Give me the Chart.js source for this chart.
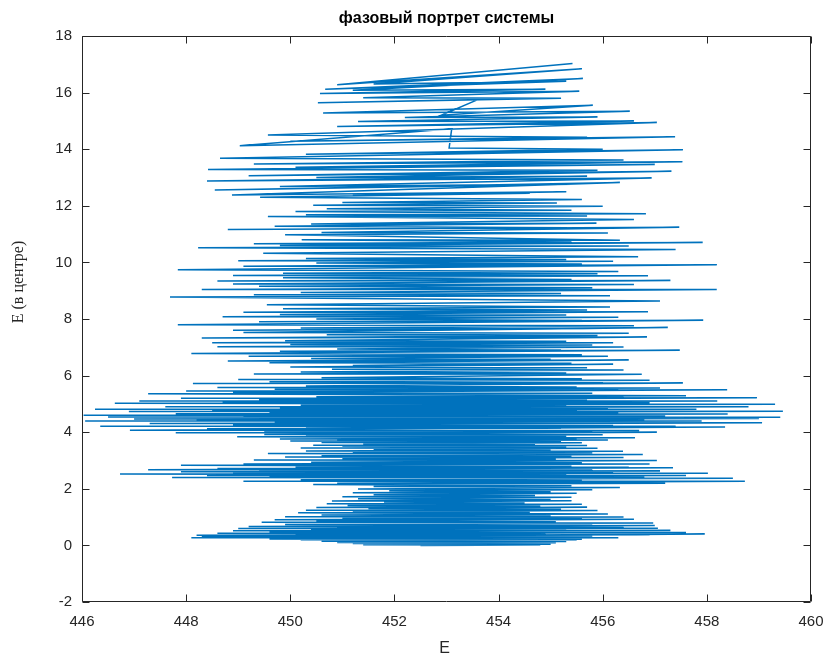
<!DOCTYPE html>
<html>
<head>
<meta charset="utf-8">
<script src="https://cdn.jsdelivr.net/npm/chart.js@4/dist/chart.umd.min.js"></script>
<style>
  html, body { margin: 0; padding: 0; background: #ffffff; }
  #wrap { width: 829px; height: 658px; }
</style>
</head>
<body>
<div id="wrap"><canvas id="c" width="829" height="658"></canvas></div>
<script>
// ---- data: [E, E (в центре)] ----
const bandA = [[452.5,0.00],[454.8,0.01],[451.4,0.02],[455.0,0.04],[452.0,0.05],[454.2,0.06],[451.2,0.07],[455.1,0.09],[450.9,0.10],[453.9,0.11],[451.6,0.12],[455.3,0.14],[450.6,0.15],[454.6,0.16],[451.1,0.17],[455.5,0.19],[450.2,0.20],[455.6,0.22],[449.6,0.23],[454.1,0.24],[450.7,0.25],[456.3,0.27],[448.1,0.27],[457.96,0.40],[448.3,0.31],[455.8,0.33],[449.3,0.35],[456.9,0.38],[448.2,0.36],[454.9,0.39],[450.1,0.41],[457.6,0.46],[448.6,0.43],[456.1,0.45],[449.6,0.47],[457.3,0.53],[448.9,0.52],[455.3,0.55],[450.4,0.57],[457.06,0.61],[449.0,0.60],[456.4,0.63],[450.9,0.64],[457.0,0.70],[449.2,0.67],[455.8,0.71],[449.9,0.74],[456.97,0.79],[449.45,0.82],[455.1,0.84],[450.5,0.86],[456.6,0.92],[449.7,0.91],[455.6,0.95],[451.0,0.97],[456.4,1.00],[449.9,1.01],[455.0,1.04],[450.6,1.07],[456.1,1.11],[450.15,1.15],[454.6,1.17],[451.2,1.19],[455.9,1.23],[450.3,1.24],[455.2,1.28],[451.5,1.30],[455.7,1.35],[450.5,1.34],[454.8,1.38],[451.1,1.41],[455.6,1.45],[450.7,1.47],[454.5,1.50],[451.8,1.53],[455.4,1.58],[450.8,1.57],[455.0,1.62],[451.3,1.65],[455.4,1.70],[451.0,1.72],[454.7,1.76],[451.6,1.79],[455.5,1.84],[451.2,1.86],[455.0,1.90],[451.9,1.93],[455.8,1.97],[451.3,1.99],[456.33,2.05],[451.6,2.08],[455.4,2.11]];
const bandB = [[450.44,2.15],[457.2,2.20],[450.9,2.20],[458.73,2.27],[449.1,2.27],[455.6,2.30],[450.2,2.32],[458.5,2.37],[447.73,2.40],[456.8,2.42],[449.6,2.43],[457.6,2.47],[448.4,2.47],[455.3,2.49],[446.73,2.52],[458.02,2.55],[448.9,2.55],[456.2,2.58],[447.9,2.60],[457.1,2.63],[449.4,2.62],[455.8,2.66],[447.27,2.67],[457.35,2.74],[448.6,2.72],[456.5,2.76],[450.1,2.77],[455.4,2.80],[447.9,2.83],[456.9,2.88],[449.1,2.88],[455.6,2.92],[450.4,2.94],[457.04,3.00],[449.3,3.02],[455.1,3.04],[451.0,3.07],[456.4,3.11],[449.9,3.12],[455.4,3.15],[450.6,3.17],[456.77,3.21],[449.57,3.25],[455.8,3.27],[451.2,3.29],[456.39,3.33],[450.3,3.34],[455.0,3.37],[451.6,3.39],[455.9,3.43],[450.2,3.44],[455.3,3.47],[451.0,3.50],[455.7,3.53],[450.44,3.54],[454.7,3.56],[451.4,3.59],[455.6,3.63],[450.6,3.64],[455.2,3.67],[450.0,3.69],[456.1,3.72],[450.9,3.73],[455.5,3.76],[449.8,3.76],[456.62,3.80],[448.98,3.84],[455.3,3.86],[450.3,3.88],[456.0,3.91],[449.5,3.92],[457.04,4.00]];
const bandC = [[447.8,3.98],[455.8,4.02],[449.5,4.03],[456.7,4.06],[446.92,4.07],[458.35,4.18],[448.4,4.12],[455.2,4.14],[450.3,4.15],[457.4,4.21],[446.35,4.21],[456.2,4.24],[448.9,4.26],[459.06,4.33],[447.3,4.31],[455.6,4.34],[449.7,4.36],[457.9,4.40],[446.06,4.40],[456.8,4.43],[448.2,4.45],[459.0,4.48],[447.0,4.47],[455.4,4.49],[450.0,4.50],[459.41,4.53],[446.5,4.54],[457.2,4.57],[449.1,4.58],[455.9,4.60],[446.03,4.60],[458.4,4.64],[447.8,4.65],[456.3,4.67],[449.6,4.69],[459.46,4.74],[446.9,4.73],[455.5,4.76],[448.5,4.78],[457.8,4.81],[446.25,4.81],[456.1,4.84],[449.8,4.86],[458.8,4.90],[447.6,4.90],[455.3,4.93],[450.2,4.95],[459.31,4.99],[446.63,5.02],[456.9,5.04],[448.7,5.06],[458.2,5.10],[447.1,5.10],[455.7,5.13],[449.4,5.15],[458.96,5.22],[447.9,5.20],[456.4,5.23],[450.5,5.25],[457.6,5.29],[447.27,5.36],[455.8,5.38],[448.9,5.40],[458.39,5.50],[448.0,5.46],[456.3,5.49],[449.7,5.52],[457.1,5.56],[448.6,5.58],[455.5,5.60],[450.3,5.63],[457.54,5.74],[448.13,5.72],[456.0,5.75],[449.6,5.78],[456.9,5.84],[449.0,5.86],[455.6,5.89],[450.6,5.92],[456.75,6.05],[449.3,6.06],[455.3,6.09],[450.2,6.13],[456.4,6.20],[450.8,6.22],[455.7,6.28],[450.0,6.30],[456.2,6.40]];
const bandD = [[451.2,6.36],[455.4,6.44],[449.6,6.45],[456.5,6.55],[448.8,6.52],[455.0,6.58],[450.4,6.60],[456.1,6.68],[449.2,6.68],[455.6,6.74],[448.1,6.78],[457.48,6.90],[449.8,6.86],[455.2,6.90],[450.9,6.94],[456.4,7.01],[448.6,7.02],[455.8,7.08],[450.0,7.10],[456.2,7.16],[448.5,7.16],[455.3,7.21],[449.9,7.23],[456.85,7.36],[448.3,7.33],[455.9,7.42],[450.7,7.44],[456.5,7.50],[449.1,7.52],[457.25,7.70],[448.9,7.60],[456.0,7.66],[450.2,7.68],[456.6,7.76],[447.84,7.80],[457.93,7.96],[449.4,7.90],[455.6,7.95],[450.5,8.00],[456.3,8.06],[448.7,8.08],[455.3,8.14],[449.8,8.16],[456.87,8.26],[449.1,8.24],[455.7,8.32],[449.86,8.36],[456.14,8.42],[449.55,8.50]];
const bandE = [[457.1,8.64],[447.69,8.78],[456.14,8.82],[449.3,8.86],[455.2,8.90],[450.2,8.94],[458.19,9.04],[448.3,9.04],[455.8,9.10],[449.4,9.16],[456.6,9.22],[448.9,9.24],[457.3,9.36],[448.6,9.34],[455.4,9.40],[449.86,9.46],[456.87,9.53],[448.9,9.54],[455.9,9.60],[449.86,9.62],[456.3,9.68],[447.84,9.74],[458.19,9.92],[449.1,9.86],[455.6,9.94],[450.5,9.98],[456.2,10.04],[449.0,10.06],[455.3,10.10],[450.3,10.14],[456.68,10.20],[449.48,10.32],[457.4,10.46],[448.23,10.52],[456.5,10.58],[449.8,10.60],[457.92,10.70],[449.3,10.66],[455.4,10.72],[450.22,10.80],[456.33,10.78],[449.9,10.98],[456.1,11.04],[450.6,11.06],[457.47,11.24],[448.8,11.16],[455.3,11.22],[449.7,11.28],[455.88,11.38],[450.4,11.36],[456.6,11.52],[449.57,11.62],[455.7,11.64],[450.3,11.68],[456.83,11.72],[450.1,11.80],[455.4,11.84],[450.7,11.90],[456.0,11.98],[450.44,12.02],[455.12,12.10],[451.0,12.12],[455.6,12.22]];
const bandF = [[449.42,12.30],[454.6,12.44],[451.2,12.36],[455.3,12.50],[448.88,12.38],[456.33,12.82],[448.55,12.56],[455.4,12.76],[449.8,12.68],[456.94,12.98],[448.4,12.88],[455.7,13.04],[450.5,13.00],[457.32,13.22],[449.2,13.06],[455.9,13.26],[448.42,13.28],[457.0,13.46],[450.1,13.36],[457.53,13.56],[449.3,13.48],[456.4,13.62],[448.65,13.68],[457.54,13.98],[450.3,13.82],[456.0,14.00],[453.05,14.04],[453.1,14.72],[449.03,14.12],[457.39,14.44],[450.0,14.28],[455.7,14.42],[449.57,14.50],[457.04,14.94],[450.9,14.80]];
const bandG = [[456.6,15.00],[451.3,14.98],[455.9,15.14],[452.2,15.12],[456.52,15.34],[450.63,15.28],[455.81,15.55],[452.9,15.20],[453.6,15.75],[450.53,15.64],[455.2,15.80],[451.4,15.82],[455.55,16.05],[450.57,15.97],[454.9,16.12],[451.2,16.08],[455.62,16.50],[450.67,16.12],[455.3,16.40],[451.6,16.30],[455.6,16.84],[450.9,16.28],[455.42,17.03]];

const xTickValues = [446, 448, 450, 452, 454, 456, 458, 460];
const yTickValues = [-2, 0, 2, 4, 6, 8, 10, 12, 14, 16, 18];

const titleText = 'фазовый портрет системы';
const xLabelText = 'E';
const yLabelText = 'E (в центре)';

// ---- build chart ----
const trajectory = [].concat(bandA, bandB, bandC, bandD, bandE, bandF, bandG)
  .map(p => ({ x: p[0], y: p[1] }));

const axisColor = '#262626';

const matlabBox = {
  id: 'matlabBox',
  afterDatasetsDraw(chart) {
    const { ctx, chartArea: a, scales } = chart;
    const tl = 7;
    ctx.save();
    ctx.strokeStyle = axisColor;
    ctx.lineWidth = 1;
    ctx.beginPath();
    const L = Math.round(a.left) + 0.5, R = Math.round(a.right) - 0.5;
    const T = Math.round(a.top) + 0.5, B = Math.round(a.bottom) - 0.5;
    ctx.rect(L, T, R - L, B - T);
    xTickValues.forEach(v => {
      const px = Math.round(scales.x.getPixelForValue(v)) + 0.5;
      ctx.moveTo(px, B); ctx.lineTo(px, B - tl);
      ctx.moveTo(px, T); ctx.lineTo(px, T + tl);
    });
    yTickValues.forEach(v => {
      const py = Math.round(scales.y.getPixelForValue(v)) + 0.5;
      ctx.moveTo(L, py); ctx.lineTo(L + tl, py);
      ctx.moveTo(R, py); ctx.lineTo(R - tl, py);
    });
    ctx.stroke();
    ctx.restore();
  },
  afterDraw(chart) {
    const { ctx, chartArea: a } = chart;
    const cx = (a.left + a.right) / 2;
    ctx.save();
    ctx.fillStyle = '#000000';
    ctx.textAlign = 'center';
    ctx.textBaseline = 'middle';
    ctx.font = 'bold 16px "Liberation Sans", Arial, sans-serif';
    ctx.fillText(titleText, cx, 19);
    ctx.fillStyle = axisColor;
    ctx.font = '16px "Liberation Sans", Arial, sans-serif';
    ctx.fillText(xLabelText, cx - 2, 649);
    ctx.translate(19, 282);
    ctx.rotate(-Math.PI / 2);
    ctx.font = '16px "Liberation Serif", "DejaVu Serif", serif';
    ctx.fillText(yLabelText, 0, 0);
    ctx.restore();
  }
};

new Chart(document.getElementById('c'), {
  type: 'scatter',
  data: {
    datasets: [{
      data: trajectory,
      showLine: true,
      borderColor: '#0072BD',
      backgroundColor: '#0072BD',
      borderWidth: 1.5,
      pointRadius: 0,
      tension: 0,
      fill: false
    }]
  },
  options: {
    responsive: false,
    animation: false,
    events: [],
    layout: { padding: { left: 0, right: 18, top: 36, bottom: 0 } },
    plugins: {
      legend: { display: false },
      title: { display: false },
      tooltip: { enabled: false }
    },
    scales: {
      x: {
        type: 'linear',
        min: 446, max: 460,
        afterBuildTicks: s => { s.ticks = xTickValues.map(v => ({ value: v })); },
        afterFit: s => { s.height = 56; s.paddingLeft = 0; s.paddingRight = 0; },
        grid: { display: false, drawTicks: false },
        border: { display: false },
        ticks: {
          padding: 11,
          color: axisColor,
          autoSkip: false,
          maxRotation: 0,
          font: { family: '"Liberation Sans", Arial, sans-serif', size: 15 }
        }
      },
      y: {
        type: 'linear',
        min: -2, max: 18,
        afterBuildTicks: s => { s.ticks = yTickValues.map(v => ({ value: v })); },
        afterFit: s => { s.width = 82; s.paddingTop = 0; s.paddingBottom = 0; },
        grid: { display: false, drawTicks: false },
        border: { display: false },
        ticks: {
          padding: 10,
          color: axisColor,
          autoSkip: false,
          font: { family: '"Liberation Sans", Arial, sans-serif', size: 15 }
        }
      }
    }
  },
  plugins: [matlabBox]
});
</script>
</body>
</html>
